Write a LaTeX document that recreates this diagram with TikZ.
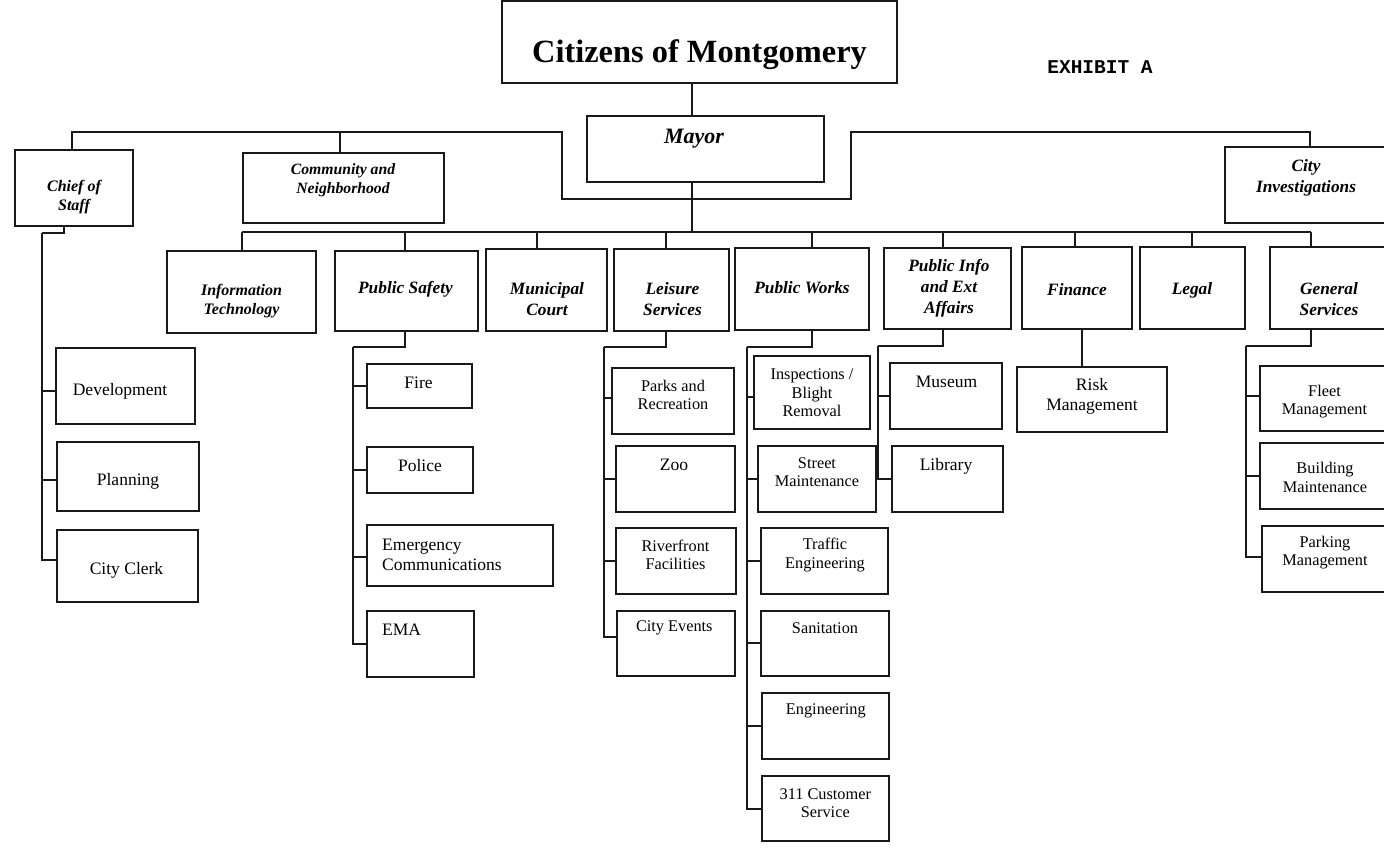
\documentclass[tikz,border=0pt]{standalone}
\usepackage{fontspec}
\setmainfont{Liberation Serif}
\setmonofont{Liberation Mono}
\tikzset{
  box/.style={draw=black!90, line width=1.4pt, inner sep=0pt, outer sep=0pt},
  ln/.style={draw=black!90, line width=1.4pt},
  bigt/.style={font=\fontsize{32.4}{38}\selectfont\bfseries, inner sep=0pt},
  mayt/.style={font=\fontsize{22}{26}\selectfont\bfseries\itshape, inner sep=0pt},
  dept/.style={font=\fontsize{17.3}{21}\selectfont\bfseries\itshape, align=center, inner sep=0pt},
  deps/.style={font=\fontsize{16}{19}\selectfont\bfseries\itshape, align=center, inner sep=0pt},
  subb/.style={font=\fontsize{17.5}{20.5}\selectfont, align=center, inner sep=0pt},
  subs/.style={font=\fontsize{16.3}{18.5}\selectfont, align=center, inner sep=0pt},
  exh/.style={font=\fontsize{19.5}{22}\selectfont\ttfamily\bfseries, inner sep=0pt}
}
\newcommand\bx[5]{\node[box,minimum width={#4-#2},minimum height={#5-#3}] (#1) at ({(#2+#4)/2},{(#3+#5)/2}) {};}
\begin{document}
\begin{tikzpicture}[x=1pt,y=-1pt]
\useasboundingbox (0,0) rectangle (1384,850);
\clip (0,0) rectangle (1384,850);
\fill[white] (0,0) rectangle (1384,850);
% ---------- boxes ----------
\bx{cit}{502}{1}{897}{83}
\bx{mayor}{587}{116}{824}{182}
\bx{chief}{15}{150}{133}{226}
\bx{comm}{243}{153}{444}{223}
\bx{cinv}{1225}{147}{1394}{223}
\bx{it}{167}{251}{316}{333}
\bx{ps}{335}{251}{478}{331}
\bx{muni}{486}{249}{607}{331}
\bx{leis}{614}{249}{729}{331}
\bx{pw}{735}{248}{869}{330}
\bx{pi}{884}{248}{1011}{329}
\bx{fin}{1022}{247}{1132}{329}
\bx{legal}{1140}{247}{1245}{329}
\bx{gs}{1270}{247}{1394}{329}
\bx{dev}{56}{348}{195}{424}
\bx{plan}{57}{442}{199}{511}
\bx{clerk}{57}{530}{198}{602}
\bx{fire}{367}{364}{472}{408}
\bx{police}{367}{447}{473}{493}
\bx{ec}{367}{525}{553}{586}
\bx{ema}{367}{611}{474}{677}
\bx{parks}{612}{368}{734}{434}
\bx{zoo}{616}{446}{735}{512}
\bx{river}{616}{528}{736}{594}
\bx{events}{617}{611}{735}{676}
\bx{insp}{754}{356}{870}{429}
\bx{street}{758}{446}{876}{512}
\bx{traffic}{761}{528}{888}{594}
\bx{sanit}{761}{611}{889}{676}
\bx{eng}{762}{693}{889}{759}
\bx{cs}{762}{776}{889}{841}
\bx{museum}{890}{363}{1002}{429}
\bx{library}{892}{446}{1003}{512}
\bx{risk}{1017}{367}{1167}{432}
\bx{fleet}{1260}{366}{1394}{431}
\bx{bldg}{1260}{443}{1394}{509}
\bx{park}{1262}{526}{1394}{592}
% ---------- texts ----------
\node[bigt] (citT) at (699.5,54.5) {Citizens of Montgomery};
\node[exh] (exhT) at (1100,67) {EXHIBIT A};
\node[mayt] (mayT) at (694,139) {Mayor};
\node[deps] (chiefT) at (74,197) {Chief of\\Staff};
\node[deps,font=\fontsize{15.7}{19}\selectfont\bfseries\itshape] (commT) at (343,180.5) {Community and\\Neighborhood};
\node[dept] (cinvT) at (1306,177.5) {City\\Investigations};
\node[deps] (itT) at (241.5,301) {Information\\Technology};
\node[dept] (psT) at (405.5,289) {Public Safety};
\node[dept] (muniT) at (547,299.5) {Municipal\\Court};
\node[dept] (leisT) at (672.5,299.5) {Leisure\\Services};
\node[dept] (pwT) at (802,288) {Public Works};
\node[dept] (piT) at (949,288) {Public Info\\and Ext\\Affairs};
\node[dept] (finT) at (1077,290) {Finance};
\node[dept] (legalT) at (1192,290) {Legal};
\node[dept] (gsT) at (1329,299.5) {General\\Services};
\node[subb] (devT) at (120,391) {Development};
\node[subb] (planT) at (128,481) {Planning};
\node[subb] (clerkT) at (126.5,570) {City Clerk};
\node[subb] (fireT) at (418.5,383) {Fire};
\node[subb] (policeT) at (420,466) {Police};
\node[subb,align=left,anchor=west] (ecT) at (382,555) {Emergency\\Communications};
\node[subb,anchor=west] (emaT) at (382,630) {EMA};
\node[subs] (parksT) at (673,395) {Parks and\\Recreation};
\node[subb] (zooT) at (674,465) {Zoo};
\node[subs] (riverT) at (675.5,555) {Riverfront\\Facilities};
\node[subs] (eventsT) at (674.3,628) {City Events};
\node[subs] (inspT) at (812,393) {Inspections /\\Blight\\Removal};
\node[subs] (streetT) at (817,472) {Street\\Maintenance};
\node[subs] (trafficT) at (825,555) {Traffic\\Engineering};
\node[subs] (sanitT) at (825,628) {Sanitation};
\node[subs] (engT) at (825.8,711) {Engineering};
\node[subs] (csT) at (825.3,803) {311 Customer\\Service};
\node[subb] (museumT) at (946.5,382) {Museum};
\node[subb] (libraryT) at (946,466) {Library};
\node[subb] (riskT) at (1092,396.5) {Risk\\Management};
\node[subs] (fleetT) at (1324.5,401.5) {Fleet\\Management};
\node[subs] (bldgT) at (1325,477.5) {Building\\Maintenance};
\node[subs] (parkT) at (1325,552.5) {Parking\\Management};
% ---------- connector coordinates ----------
\coordinate (mA) at (692,232);
\coordinate (tIT) at (242,232);
\coordinate (tPS) at (405,232);
\coordinate (tMU) at (537,232);
\coordinate (tLS) at (666,232);
\coordinate (tPW) at (812,232);
\coordinate (tPI) at (943,232);
\coordinate (tFI) at (1075,232);
\coordinate (tLG) at (1192,232);
\coordinate (tGS) at (1311,232);
\coordinate (k1) at (72,132);
\coordinate (k2) at (562,132);
\coordinate (k3) at (562,199);
\coordinate (k4) at (851,199);
\coordinate (k5) at (851,132);
\coordinate (k6) at (1310,132);
\coordinate (k7) at (340,132);
\coordinate (csA) at (64,233);
\coordinate (csB) at (42,233);
\coordinate (psA) at (405,347);
\coordinate (psB) at (353,347);
\coordinate (lsA) at (666,347);
\coordinate (lsB) at (604,347);
\coordinate (pwA) at (812,347);
\coordinate (pwB) at (747,347);
\coordinate (piA) at (943,346);
\coordinate (piB) at (878,346);
\coordinate (gsA) at (1311,346);
\coordinate (gsB) at (1246,346);
\coordinate (fA) at (1082,300);
% ---------- connectors ----------
\draw[ln] (cit.south -| mA) -- (mayor.north -| mA);
\draw[ln] (mayor.south -| mA) -- (mA);
\draw[ln] (tIT) -- (tGS);
\foreach \t/\n in {tIT/it,tPS/ps,tMU/muni,tLS/leis,tPW/pw,tPI/pi,tFI/fin,tLG/legal,tGS/gs}
  \draw[ln] (\t) -- (\n.north -| \t);
\draw[ln] (chief.north -| k1) -- (k1) -- (k2) -- (k3) -- (k4) -- (k5) -- (k6) -- (cinv.north -| k6);
\draw[ln] (k7) -- (comm.north -| k7);
% chief of staff group
\draw[ln] (chief.south -| csA) -- (csA) -- (csB);
\draw[ln] ([yshift=-5pt]dev.west) -| (csB);
\draw[ln] ([yshift=-3.5pt]plan.west) -| (csB);
\draw[ln] ([yshift=6pt]clerk.west) -| (csB);
% public safety group
\draw[ln] (ps.south -| psA) -- (psA) -- (psB);
\draw[ln] (fire.west) -| (psB);
\draw[ln] (police.west) -| (psB);
\draw[ln] ([yshift=-1.5pt]ec.west) -| (psB);
\draw[ln] (ema.west) -| (psB);
% leisure group
\draw[ln] (leis.south -| lsA) -- (lsA) -- (lsB);
\draw[ln] ([yshift=3pt]parks.west) -| (lsB);
\draw[ln] (zoo.west) -| (lsB);
\draw[ln] (river.west) -| (lsB);
\draw[ln] ([yshift=6.5pt]events.west) -| (lsB);
% public works group
\draw[ln] (pw.south -| pwA) -- (pwA) -- (pwB);
\draw[ln] ([yshift=-4.5pt]insp.west) -| (pwB);
\draw[ln] (street.west) -| (pwB);
\draw[ln] (traffic.west) -| (pwB);
\draw[ln] ([yshift=0.5pt]sanit.west) -| (pwB);
\draw[ln] (eng.west) -| (pwB);
\draw[ln] ([yshift=-0.5pt]cs.west) -| (pwB);
% public info group
\draw[ln] (pi.south -| piA) -- (piA) -- (piB);
\foreach \n in {museum,library} \draw[ln] (\n.west) -| (piB);
% finance
\draw[ln] (fin.south -| fA) -- (risk.north -| fA);
% general services group
\draw[ln] (gs.south -| gsA) -- (gsA) -- (gsB);
\draw[ln] ([yshift=2.5pt]fleet.west) -| (gsB);
\draw[ln] (bldg.west) -| (gsB);
\draw[ln] ([yshift=2pt]park.west) -| (gsB);
\end{tikzpicture}
\end{document}
